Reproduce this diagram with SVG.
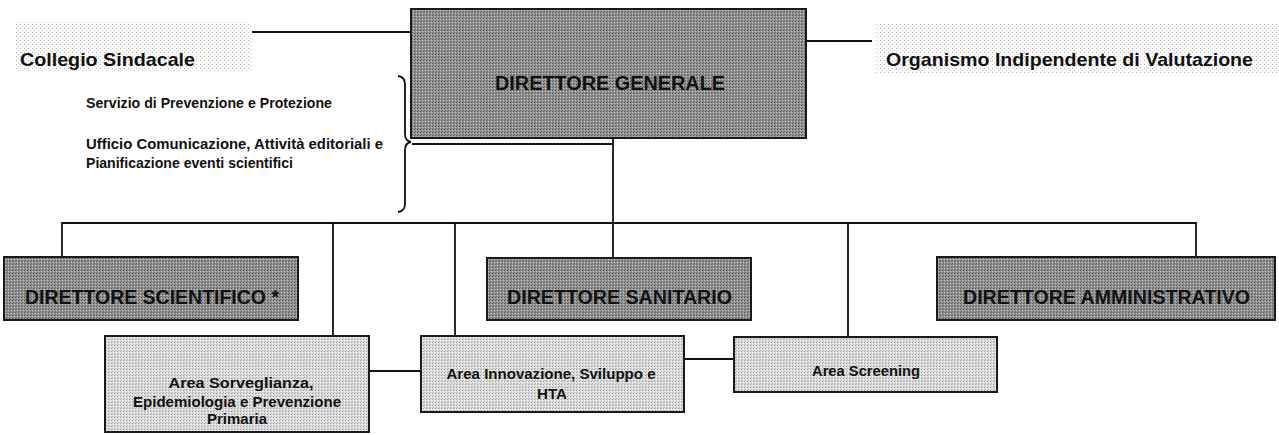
<svg xmlns="http://www.w3.org/2000/svg" width="1279" height="435" viewBox="0 0 1279 435">
<defs>
<pattern id="dots" width="4" height="4" patternUnits="userSpaceOnUse">
<rect width="4" height="4" fill="#ffffff"/>
<rect x="0" y="0" width="1" height="1" fill="#b8b8b8"/>
<rect x="2" y="2" width="1" height="1" fill="#d0d0d0"/>
</pattern>
<pattern id="dark" width="3" height="3" patternUnits="userSpaceOnUse">
<rect width="3" height="3" fill="#929292"/>
<rect x="0" y="0" width="1" height="1" fill="#555555"/>
<rect x="2" y="1" width="1" height="1" fill="#c4c4c4"/>
<rect x="1" y="2" width="1" height="1" fill="#6a6a6a"/>
</pattern>
<pattern id="light" width="3" height="3" patternUnits="userSpaceOnUse">
<rect width="3" height="3" fill="#dcdcdc"/>
<rect x="0" y="0" width="1" height="1" fill="#9c9c9c"/>
<rect x="2" y="1" width="1" height="1" fill="#f4f4f4"/>
<rect x="1" y="2" width="1" height="1" fill="#b8b8b8"/>
</pattern>
</defs>
<style>
.dk{fill:url(#dark);stroke:#1a1a1a;stroke-width:2}
.lt{fill:url(#light);stroke:#1a1a1a;stroke-width:2}
.conn{fill:none;stroke:#111;stroke-width:1.8}
.t{font-family:"Liberation Sans",Arial,sans-serif;font-weight:bold;fill:#111}
.big{font-size:21px}
.hd{font-size:19px}
.sm{font-size:15px}
.ar{font-size:14px}
</style>
<rect width="1279" height="435" fill="#ffffff"/>

<g id="collegio">
<rect x="15" y="22" width="237" height="50" fill="url(#dots)"/>
<text class="t hd" x="20" y="66" textLength="175" lengthAdjust="spacingAndGlyphs">Collegio Sindacale</text>
</g>
<g id="oiv">
<rect x="875" y="23" width="404" height="50" fill="url(#dots)"/>
<text class="t hd" x="886" y="66" textLength="367" lengthAdjust="spacingAndGlyphs">Organismo Indipendente di Valutazione</text>
</g>

<g id="staff">
<text class="t sm" x="86" y="108" textLength="246" lengthAdjust="spacingAndGlyphs">Servizio di Prevenzione e Protezione</text>
<text class="t sm" x="86" y="149" textLength="297" lengthAdjust="spacingAndGlyphs">Ufficio Comunicazione, Attività editoriali e</text>
<text class="t sm" x="86" y="168" textLength="207" lengthAdjust="spacingAndGlyphs">Pianificazione eventi scientifici</text>
</g>

<g id="connectors">
<line class="conn" x1="252" y1="32" x2="411" y2="32"/>
<line class="conn" x1="806" y1="41" x2="872" y2="41"/>
<path class="conn" d="M398,76 Q405,77 405,84 L405,134 Q405,141 411,142 Q405,143 405,150 L405,204 Q405,211 398,212"/>
<line class="conn" x1="412" y1="144" x2="613" y2="144"/>
<line class="conn" x1="613" y1="138" x2="613" y2="258"/>
<line class="conn" x1="62" y1="223" x2="1196" y2="223"/>
<line class="conn" x1="62" y1="222" x2="62" y2="257"/>
<line class="conn" x1="333" y1="223" x2="333" y2="336"/>
<line class="conn" x1="455" y1="223" x2="455" y2="336"/>
<line class="conn" x1="848" y1="223" x2="848" y2="337"/>
<line class="conn" x1="1196" y1="222" x2="1196" y2="257"/>
<line class="conn" x1="369" y1="371" x2="421" y2="371"/>
<line class="conn" x1="684" y1="359" x2="734" y2="359"/>
</g>

<g id="dg">
<rect class="dk" x="411" y="9" width="395" height="129"/>
<text class="t big" x="610" y="90" text-anchor="middle" textLength="230" lengthAdjust="spacingAndGlyphs">DIRETTORE GENERALE</text>
</g>

<g id="dir-scientifico">
<rect class="dk" x="4" y="257" width="294" height="63"/>
<text class="t big" x="25" y="304" textLength="254" lengthAdjust="spacingAndGlyphs">DIRETTORE SCIENTIFICO *</text>
</g>
<g id="dir-sanitario">
<rect class="dk" x="487" y="258" width="264" height="62"/>
<text class="t big" x="507" y="304" textLength="225" lengthAdjust="spacingAndGlyphs">DIRETTORE SANITARIO</text>
</g>
<g id="dir-amministrativo">
<rect class="dk" x="937" y="257" width="338" height="63"/>
<text class="t big" x="963" y="304" textLength="287" lengthAdjust="spacingAndGlyphs">DIRETTORE AMMINISTRATIVO</text>
</g>

<g id="area-sorveglianza">
<rect class="lt" x="105" y="336" width="264" height="96"/>
<text class="t ar" x="241" y="388" text-anchor="middle" textLength="145" lengthAdjust="spacingAndGlyphs">Area Sorveglianza,</text>
<text class="t ar" x="237" y="407" text-anchor="middle" textLength="208" lengthAdjust="spacingAndGlyphs">Epidemiologia e Prevenzione</text>
<text class="t ar" x="237" y="424" text-anchor="middle" textLength="60" lengthAdjust="spacingAndGlyphs">Primaria</text>
</g>
<g id="area-innovazione">
<rect class="lt" x="421" y="336" width="263" height="76"/>
<text class="t ar" x="551" y="379" text-anchor="middle" textLength="209" lengthAdjust="spacingAndGlyphs">Area Innovazione, Sviluppo e</text>
<text class="t ar" x="552" y="399" text-anchor="middle" textLength="30" lengthAdjust="spacingAndGlyphs">HTA</text>
</g>
<g id="area-screening">
<rect class="lt" x="734" y="337" width="263" height="55"/>
<text class="t ar" x="866" y="376" text-anchor="middle" textLength="108" lengthAdjust="spacingAndGlyphs">Area Screening</text>
</g>
</svg>
